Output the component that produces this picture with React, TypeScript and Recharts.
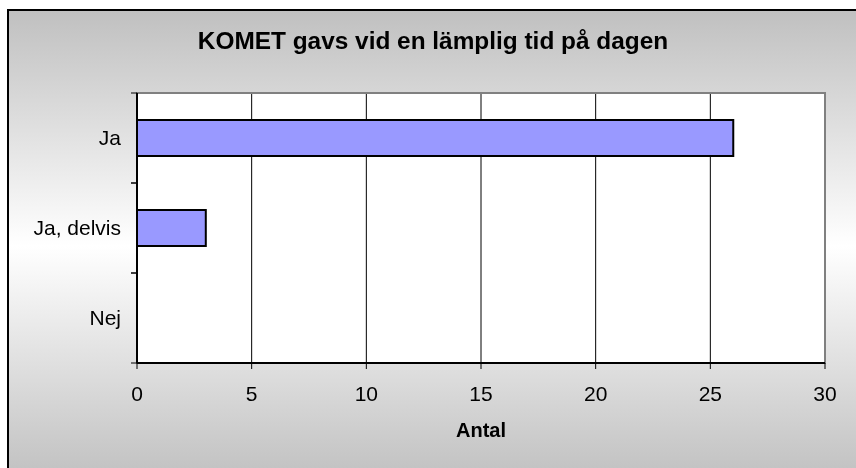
import { BarChart, Bar, XAxis, YAxis, CartesianGrid, ReferenceArea } from "recharts";

const categories = ["Ja", "Ja, delvis", "Nej"];
const counts = [26, 3, 0];
const xTicks = [0, 5, 10, 15, 20, 25, 30];

const data = categories.map((name, i) => ({ name, value: counts[i] }));

const FONT = "'Liberation Sans', Arial, sans-serif";
const LABEL_GAP = 16;

// category label plus tick marks at the band edges (Excel style)
const CategoryTick = (props: any) => {
  const { x, y, payload } = props;
  const axisX = x + LABEL_GAP;
  const half = payload && payload.offset ? payload.offset : 0;
  return (
    <g>
      <text
        x={x}
        y={y}
        dy="0.355em"
        textAnchor="end"
        fill="#000"
        fontSize={21}
        fontFamily={FONT}
      >
        {payload.value}
      </text>
      {half > 0 && (
        <>
          <line x1={axisX - 6} x2={axisX} y1={y - half} y2={y - half} stroke="#000" />
          <line x1={axisX - 6} x2={axisX} y1={y + half} y2={y + half} stroke="#000" />
        </>
      )}
    </g>
  );
};

export default function App() {
  return (
    <div
      style={{
        position: "fixed",
        left: 0,
        top: 0,
        width: 856,
        height: 468,
        overflow: "hidden",
        fontFamily: FONT,
      }}
    >
      {/* chart frame with gray-white-gray gradient */}
      <div
        style={{
          position: "absolute",
          left: 7,
          top: 9,
          width: 870,
          height: 470,
          borderLeft: "2px solid #000",
          borderTop: "2px solid #000",
          background: "linear-gradient(to bottom, #c0c0c0 0%, #ffffff 50%, #c0c0c0 100%)",
        }}
      />
      <div
        style={{
          position: "absolute",
          left: 0,
          top: 29,
          width: 866,
          textAlign: "center",
          fontSize: 24.4,
          lineHeight: "24px",
          fontWeight: "bold",
          color: "#000",
        }}
      >
        KOMET gavs vid en lämplig tid på dagen
      </div>
      <div style={{ position: "absolute", left: 0, top: 0 }}>
        <BarChart
          width={856}
          height={468}
          data={data}
          layout="vertical"
          margin={{ top: 93, right: 31, left: 7, bottom: 25 }}
          barCategoryGap="30%"
        >
          <CartesianGrid horizontal={false} stroke="#000" fill="#fff" fillOpacity={1} />
          <ReferenceArea
            x1={0}
            x2={30}
            fill="none"
            stroke="#808080"
            strokeWidth={2}
          />
          <YAxis
            type="category"
            dataKey="name"
            width={130}
            axisLine={{ stroke: "#000", strokeWidth: 2 }}
            tickLine={false}
            tickSize={0}
            tickMargin={LABEL_GAP}
            tick={<CategoryTick />}
          />
          <XAxis
            type="number"
            domain={[0, 30]}
            ticks={xTicks}
            height={80}
            axisLine={{ stroke: "#000", strokeWidth: 2 }}
            tickLine={{ stroke: "#000", strokeWidth: 1 }}
            tickSize={6}
            tickMargin={17}
            tick={{ fill: "#000", fontSize: 21, fontFamily: FONT }}
            label={{
              value: "Antal",
              position: "insideBottom",
              offset: 6,
              fill: "#000",
              fontSize: 20,
              fontWeight: "bold",
              fontFamily: FONT,
            }}
          />
          <Bar
            dataKey="value"
            fill="#9999ff"
            stroke="#000"
            strokeWidth={2}
            isAnimationActive={false}
          />
        </BarChart>
      </div>
    </div>
  );
}
